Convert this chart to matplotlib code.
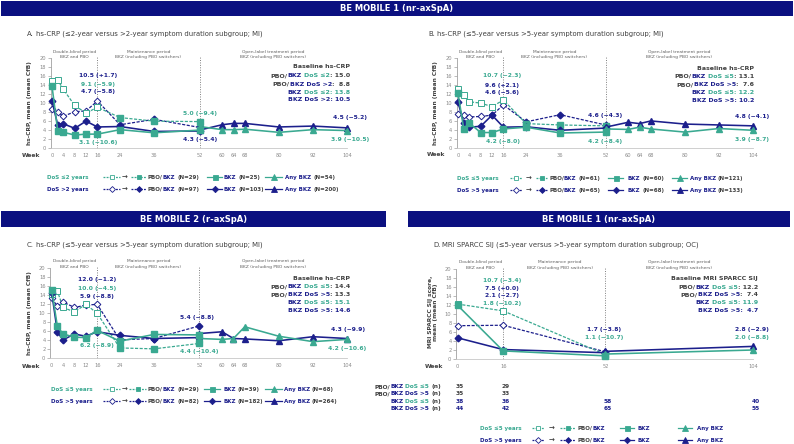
import matplotlib
matplotlib.use('Agg')
import matplotlib.pyplot as plt
from matplotlib.lines import Line2D
from matplotlib.patches import Rectangle

plt.rcParams['font.family'] = ['DejaVu Sans']

TEAL = '#3aa991'
NAVY = '#1c1f8c'
BAR = '#0b1080'
DARK = '#404040'
GREY = '#8a8a8a'

# weeks
wk_pbo = [0, 2, 4, 8, 12, 16, 24, 36, 52]
wk_bkz = [0, 2, 4, 8, 12, 16, 24, 36, 52]
wk_any = [52, 60, 64, 68, 80, 92, 104]
wk_ticks = [0, 4, 8, 12, 16, 24, 36, 52, 60, 64, 68, 80, 92, 104]
wk_mri = [0, 16, 52]
wk_mri_any = [52, 104]
wk_mri_ticks = [0, 16, 52, 104]

# A: BE MOBILE 1, hs-CRP, DoS <=2 / >2
a_pbo_le = [15.0, 15.2, 13.1, 9.5, 7.8, 9.1, 6.8, 6.0, 5.9]
a_bkz_le = [13.8, 3.9, 3.5, 2.9, 3.1, 3.1, 4.1, 3.4, 4.0]
a_any_le = [4.8, 4.1, 4.1, 4.2, 3.5, 4.1, 3.9]
a_pbo_gt = [8.8, 8.0, 7.1, 8.1, 8.3, 10.5, 5.2, 6.4, 4.6]
a_bkz_gt = [10.5, 5.2, 5.4, 4.4, 6.0, 4.7, 4.8, 3.7, 3.8]
a_any_gt = [4.0, 5.2, 5.5, 5.5, 4.7, 4.9, 4.5]

# B: BE MOBILE 1, hs-CRP, DoS <=5 / >5
b_pbo_le = [13.1, 11.9, 10.3, 10.0, 9.2, 10.7, 5.4, 5.1, 4.9]
b_bkz_le = [12.2, 4.3, 5.5, 3.4, 3.4, 4.2, 4.6, 3.3, 3.5]
b_any_le = [4.2, 4.1, 4.6, 4.2, 3.5, 4.3, 3.9]
b_pbo_gt = [7.6, 7.4, 6.9, 7.0, 7.3, 9.6, 5.8, 7.4, 5.1]
b_bkz_gt = [10.2, 5.6, 4.6, 4.8, 7.3, 4.6, 4.7, 3.9, 4.4]
b_any_gt = [4.6, 5.7, 5.4, 6.0, 5.3, 5.1, 4.9]

# C: BE MOBILE 2, hs-CRP, DoS <=5 / >5
c_pbo_le = [14.4, 14.9, 11.3, 10.3, 12.0, 10.0, 2.3, 2.1, 3.3]
c_bkz_le = [15.1, 7.1, 5.4, 4.7, 4.6, 6.2, 3.8, 5.3, 5.2]
c_any_le = [4.4, 4.2, 4.4, 7.0, 4.9, 3.7, 4.2]
c_pbo_gt = [13.3, 11.6, 12.5, 11.3, 11.8, 12.0, 4.1, 4.4, 7.2]
c_bkz_gt = [14.6, 5.8, 4.1, 5.4, 4.9, 5.9, 5.1, 4.4, 4.6]
c_any_gt = [5.5, 5.9, 4.4, 4.3, 3.9, 4.8, 4.4]

# D: BE MOBILE 1, MRI SPARCC SIJ, DoS <=5 / >5
d_pbo_le = [12.2, 10.7, 1.0]
d_bkz_le = [11.9, 1.8, 0.7]
d_any_le = [1.1, 2.0]
d_pbo_gt = [7.4, 7.5, 1.6]
d_bkz_gt = [4.7, 2.1, 1.4]
d_any_gt = [1.7, 2.8]
n_rows = ['PBO/BKZ DoS \u22645 (n)', 'PBO/BKZ DoS >5 (n)', 'BKZ DoS \u22645 (n)', 'BKZ DoS >5 (n)']
n_vals = [[35, 29], [35, 33], [38, 36, 58, 40], [44, 42, 65, 55]]

W, H = 794, 444
fig = plt.figure(figsize=(7.94, 4.44), dpi=100)
renderer = fig.canvas.get_renderer()


def P(x, y):
    return x / W, 1 - y / H


def text_w(s, size, weight):
    # width of a string incl. trailing spaces: measure with a guard character
    a = fig.text(0, 0, s + '|', fontsize=size, fontweight=weight)
    b = fig.text(0, 0, '|', fontsize=size, fontweight=weight)
    w = a.get_window_extent(renderer).width - b.get_window_extent(renderer).width
    a.remove()
    b.remove()
    return w


def rich(x, y, parts, size=4.4, ha='left', weight='bold'):
    full = ''.join(s for s, c in parts)
    x0 = x if ha == 'left' else x - text_w(full, size, weight)
    prefix = ''
    for s, c in parts:
        off = text_w(prefix, size, weight) if prefix else 0
        lead = len(s) - len(s.lstrip(' '))
        off += text_w(s[:lead], size, weight) if lead else 0
        fig.text(*P(x0 + off, y), s.strip(' '), ha='left', va='center', color=c,
                 fontsize=size, fontweight=weight)
        prefix += s


def bar(x0, x1, y0, y1, label):
    fig.add_artist(Rectangle(P(x0, y1), (x1 - x0) / W, (y1 - y0) / H,
                             transform=fig.transFigure, color=BAR, lw=0))
    fig.text(*P((x0 + x1) / 2, (y0 + y1) / 2), label, color='white', fontsize=6,
             fontweight='bold', ha='center', va='center')


def make_ax(l, t, r, b, ticks, periods):
    ax = fig.add_axes([l / W, 1 - b / H, (r - l) / W, (b - t) / H])
    ax.set_xlim(-0.5, 104)
    ax.set_ylim(0, 20)
    ax.set_xticks(ticks)
    ax.set_yticks(range(0, 21, 2))
    for s in ['top', 'right']:
        ax.spines[s].set_visible(False)
    ax.spines['left'].set_color('#a0a0a0')
    ax.spines['bottom'].set_color('#c8c8c8')
    ax.spines['left'].set_linewidth(0.6)
    ax.spines['bottom'].set_linewidth(0.6)
    ax.tick_params(axis='x', length=0, pad=3.5, labelsize=3.7, labelcolor=GREY)
    ax.tick_params(axis='y', length=2, width=0.5, color='#a0a0a0', pad=1.5,
                   labelsize=3.7, labelcolor=GREY)
    for wk in [16, 52]:
        ax.plot([wk, wk], [0, 20.3], color='#808080', lw=0.7, ls=(0, (1, 1.5)),
                clip_on=False, zorder=1)
    for xc, txt in zip(periods, ['Double-blind period\nBKZ and PBO',
                                 'Maintenance period\nBKZ (including PBO switchers)',
                                 'Open-label treatment period\nBKZ (including PBO switchers)']):
        ax.text(xc, 20.9, txt, ha='center', va='center', fontsize=3.2, color='#606060',
                linespacing=1.6, clip_on=False)
    return ax


def series(ax, wp, pbo, wb, bkz, wa, anyb, col, mk, n_open, ms=4.0):
    ax.plot(wp, pbo, color=col, lw=0.9, ls=(0, (2.5, 1.2)), clip_on=False, zorder=2)
    ax.plot(wp[:n_open], pbo[:n_open], ls='none', marker=mk, ms=ms, mfc='white',
            mec=col, mew=0.7, clip_on=False, zorder=3)
    ax.plot(wp[n_open:], pbo[n_open:], ls='none', marker=mk, ms=ms, mfc=col,
            mec=col, clip_on=False, zorder=3)
    ax.plot(wb, bkz, color=col, lw=1.15, marker=mk, ms=ms, clip_on=False, zorder=4)
    ax.plot(wa, anyb, color=col, lw=1.15, marker='^', ms=4.8, clip_on=False, zorder=4)


def sample(x0, x1, y, col, ls, mk, mfc, ms=3.4):
    fig.add_artist(Line2D([x0 / W, x1 / W], [1 - y / H] * 2, color=col, lw=0.9, ls=ls,
                          transform=fig.transFigure))
    fig.add_artist(Line2D([(x0 + x1) / 2 / W], [1 - y / H], ls='none', marker=mk, ms=ms,
                          mfc=mfc, mec=col, mew=0.6, transform=fig.transFigure))


def legend(y1, y2, xs, cuts, ns):
    # xs: label, s1 start/end, arrow, s2 start/end, txt, s3 start/end, txt, s4 start/end, txt
    for y, col, mk, cut, n in [(y1, TEAL, 's', cuts[0], ns[0]), (y2, NAVY, 'D', cuts[1], ns[1])]:
        rich(xs[0], y, [('DoS ' + cut + ' years', col)], size=4.0)
        sample(xs[1], xs[2], y, col, (0, (1.5, 1)), mk, 'white', 3.4 if mk == 's' else 3.0)
        fig.text(*P(xs[3], y), '\u2192', color=DARK, fontsize=5, ha='center', va='center',
                 fontweight='bold')
        sample(xs[4], xs[5], y, col, (0, (1.5, 1)), mk, col, 3.4 if mk == 's' else 3.0)
        rich(xs[6], y, [('PBO/', DARK), ('BKZ', NAVY), (n[0], DARK)], size=4.0)
        sample(xs[7], xs[8], y, col, '-', mk, col, 3.6 if mk == 's' else 3.2)
        rich(xs[9], y, [('BKZ', NAVY), (n[1], DARK)], size=4.0)
        sample(xs[10], xs[11], y, col, '-', '^', col, 4.3)
        rich(xs[12], y, [('Any BKZ', NAVY), (n[2], DARK)], size=4.0)


def baseline(x, ys, title, cuts, vals):
    rich(x, ys[0], [(title, DARK)], ha='right', size=4.5)
    rich(x, ys[1], [('PBO/', DARK), ('BKZ ', NAVY), ('DoS ' + cuts[0], TEAL), (': ' + vals[0], DARK)],
         ha='right', size=4.5)
    rich(x, ys[2], [('PBO/', DARK), ('BKZ DoS ' + cuts[1], NAVY), (': ' + vals[1], DARK)],
         ha='right', size=4.5)
    rich(x, ys[3], [('BKZ ', NAVY), ('DoS ' + cuts[0] + ': ' + vals[2], TEAL)], ha='right', size=4.5)
    rich(x, ys[4], [('BKZ DoS ' + cuts[1] + ': ' + vals[3], NAVY)], ha='right', size=4.5)


def lab(x, y, s, col):
    fig.text(*P(x, y), s, color=col, fontsize=4.3, fontweight='bold', ha='center', va='center')


# header bars
bar(1, 793, 1, 16, 'BE MOBILE 1 (nr-axSpA)')
bar(1, 386, 211, 227, 'BE MOBILE 2 (r-axSpA)')
bar(408, 790, 211, 227, 'BE MOBILE 1 (nr-axSpA)')

# panel titles
rich(27, 34, [('A. ', DARK), ('hs-CRP (\u22642-year versus >2-year symptom duration subgroup; MI)', DARK)],
     size=4.95, weight='normal')
rich(428, 34, [('B. ', DARK), ('hs-CRP (\u22645-year versus >5-year symptom duration subgroup; MI)', DARK)],
     size=4.95, weight='normal')
rich(27, 245, [('C. ', DARK), ('hs-CRP (\u22645-year versus >5-year symptom duration subgroup; MI)', DARK)],
     size=4.95, weight='normal')
rich(433, 245, [('D. ', DARK), ('MRI SPARCC SIJ (\u22645-year versus >5-year symptom duration subgroup; OC)', DARK)],
     size=4.95, weight='normal')

# panel A
ax = make_ax(50.6, 58.5, 347, 148, wk_ticks, [8, 34, 78])
series(ax, wk_pbo, a_pbo_gt, wk_bkz, a_bkz_gt, wk_any, a_any_gt, NAVY, 'D', 6, 3.4)
series(ax, wk_pbo, a_pbo_le, wk_bkz, a_bkz_le, wk_any, a_any_le, TEAL, 's', 6)
fig.text(*P(40, 155.7), 'Week', fontsize=4.3, fontweight='bold', color=DARK, ha='right', va='center')
fig.text(*P(30, 103), 'hs-CRP, mean (mean CfB)', rotation=90, fontsize=4.2, fontweight='bold',
         color=DARK, ha='center', va='center')
baseline(350, [67, 75.7, 84, 92, 99.7], 'Baseline hs-CRP', ['\u22642', '>2'], ['15.0', ' 8.8', '13.8', '10.5'])
lab(98, 76, '10.5 (+1.7)', NAVY)
lab(98, 84, '9.1 (\u22125.9)', TEAL)
lab(98, 92, '4.7 (\u22125.8)', NAVY)
lab(98, 142.7, '3.1 (\u221210.6)', TEAL)
lab(200, 113, '5.0 (\u22129.4)', TEAL)
lab(200, 140, '4.3 (\u22125.4)', NAVY)
lab(350, 117.7, '4.5 (\u22125.2)', NAVY)
lab(350, 140, '3.9 (\u221210.5)', TEAL)
legend(177, 189, [47, 103, 120, 125, 131, 146, 148, 207, 222, 224, 265, 282, 285],
       ['\u22642', '>2'], [[' (N=29)', ' (N=25)', ' (N=54)'], [' (N=97)', ' (N=103)', ' (N=200)']])

# panel B
ax = make_ax(456.6, 58.5, 753, 147.7, wk_ticks, [8, 34, 78])
series(ax, wk_pbo, b_pbo_gt, wk_bkz, b_bkz_gt, wk_any, b_any_gt, NAVY, 'D', 6, 3.4)
series(ax, wk_pbo, b_pbo_le, wk_bkz, b_bkz_le, wk_any, b_any_le, TEAL, 's', 6)
fig.text(*P(445, 155), 'Week', fontsize=4.3, fontweight='bold', color=DARK, ha='right', va='center')
fig.text(*P(435, 103), 'hs-CRP, mean (mean CfB)', rotation=90, fontsize=4.2, fontweight='bold',
         color=DARK, ha='center', va='center')
baseline(754, [68.3, 76.5, 85, 92.7, 100.3], 'Baseline hs-CRP', ['\u22645', '>5'], ['13.1', ' 7.6', '12.2', '10.2'])
lab(502, 76, '10.7 (\u22122.3)', TEAL)
lab(502, 85, '9.6 (+2.1)', NAVY)
lab(502, 92.7, '4.6 (\u22125.6)', NAVY)
lab(503, 141.7, '4.2 (\u22128.0)', TEAL)
lab(605, 115, '4.6 (\u22124.3)', NAVY)
lab(605, 141.7, '4.2 (\u22128.4)', TEAL)
lab(752, 116.7, '4.8 (\u22124.1)', NAVY)
lab(752, 140, '3.9 (\u22128.7)', TEAL)
legend(178, 190, [457, 510, 522, 529, 536, 547, 549, 608, 623, 628, 672, 687, 690],
       ['\u22645', '>5'], [[' (N=61)', ' (N=60)', ' (N=121)'], [' (N=65)', ' (N=68)', ' (N=133)']])

# panel C
ax = make_ax(50.3, 268.3, 347, 358.3, wk_ticks, [8, 34, 78])
series(ax, wk_pbo, c_pbo_gt, wk_bkz, c_bkz_gt, wk_any, c_any_gt, NAVY, 'D', 6, 3.4)
series(ax, wk_pbo, c_pbo_le, wk_bkz, c_bkz_le, wk_any, c_any_le, TEAL, 's', 6)
fig.text(*P(40, 366), 'Week', fontsize=4.3, fontweight='bold', color=DARK, ha='right', va='center')
fig.text(*P(29.5, 313), 'hs-CRP, mean (mean CfB)', rotation=90, fontsize=4.2, fontweight='bold',
         color=DARK, ha='center', va='center')
baseline(350, [278.3, 286.7, 295, 302.7, 310.7], 'Baseline hs-CRP', ['\u22645', '>5'], ['14.4', '13.3', '15.1', '14.6'])
lab(97, 279, '12.0 (\u22121.2)', NAVY)
lab(97, 288.3, '10.0 (\u22124.5)', TEAL)
lab(97, 296.7, '5.9 (\u22128.8)', NAVY)
lab(97, 345, '6.2 (\u22128.9)', TEAL)
lab(197, 317.3, '5.4 (\u22128.8)', NAVY)
lab(199, 351.7, '4.4 (\u221210.4)', TEAL)
lab(348, 329, '4.3 (\u22129.9)', NAVY)
lab(347, 348.3, '4.2 (\u221210.6)', TEAL)
legend(389.3, 401.3, [51, 103, 120, 125, 129, 146, 148, 204, 220, 223, 265, 282, 284],
       ['\u22645', '>5'], [[' (N=29)', ' (N=39)', ' (N=68)'], [' (N=82)', ' (N=182)', ' (N=264)']])

# panel D
ax = make_ax(456.3, 269, 753, 359, wk_mri_ticks, [8, 36, 78])
series(ax, wk_mri, d_pbo_gt, wk_mri, d_bkz_gt, wk_mri_any, d_any_gt, NAVY, 'D', 2, 3.4)
series(ax, wk_mri, d_pbo_le, wk_mri, d_bkz_le, wk_mri_any, d_any_le, TEAL, 's', 2)
fig.text(*P(443, 366.7), 'Week', fontsize=4.3, fontweight='bold', color=DARK, ha='right', va='center')
fig.text(*P(433, 312), 'MRI SPARCC SIJ score,\nmean (mean CfB)', rotation=90, fontsize=4.2,
         fontweight='bold', color=DARK, ha='center', va='center', multialignment='center')
baseline(758, [278.3, 287.3, 295, 302.7, 310.3], 'Baseline MRI SPARCC SIJ', ['\u22645', '>5'],
         ['12.2', ' 7.4', '11.9', ' 4.7'])
lab(502, 280.7, '10.7 (\u22123.4)', TEAL)
lab(502, 288.3, '7.5 (+0.0)', NAVY)
lab(502, 295.7, '2.1 (\u22122.7)', NAVY)
lab(502, 303.3, '1.8 (\u221210.2)', TEAL)
lab(604, 329.3, '1.7 (\u22123.8)', NAVY)
lab(604, 337.7, '1.1 (\u221210.7)', TEAL)
lab(752, 329.3, '2.8 (\u22122.9)', NAVY)
lab(752, 337.7, '2.0 (\u22128.8)', TEAL)

# number-at-risk table under D
row_y = [386.7, 393.5, 401, 408.3]
for i, (name, y) in enumerate(zip(n_rows, row_y)):
    pre, rest = name.split(' DoS ')
    cut = 'DoS ' + rest[:-4]
    parts = []
    if pre.startswith('PBO/'):
        parts.append(('PBO/', DARK))
    parts.append(('BKZ ', NAVY))
    parts.append((cut, TEAL if '\u2264' in cut else NAVY))
    parts.append((' (n)', DARK))
    rich(441, y, parts, ha='right', size=4.2)
    ncol = DARK if i < 2 else NAVY
    for wk, v in zip(wk_mri_ticks, n_vals[i]):
        fig.text(*P(458 + wk * 2.84 + 2, y), str(v), color=ncol, fontsize=4.2, fontweight='bold',
                 ha='center', va='center')

# legend under D
for y, col, mk, cut in [(428, TEAL, 's', '\u22645'), (440, NAVY, 'D', '>5')]:
    rich(480, y, [('DoS ' + cut + ' years', col)], size=4.0)
    sample(532, 544, y, col, (0, (1.5, 1)), mk, 'white', 3.4 if mk == 's' else 3.0)
    fig.text(*P(552, y), '\u2192', color=DARK, fontsize=5, ha='center', va='center', fontweight='bold')
    sample(560, 575, y, col, (0, (1.5, 1)), mk, col, 3.4 if mk == 's' else 3.0)
    rich(578, y, [('PBO/', DARK), ('BKZ', NAVY)], size=4.0)
    sample(620, 634, y, col, '-', mk, col, 3.6 if mk == 's' else 3.2)
    rich(638, y, [('BKZ', NAVY)], size=4.0)
    sample(678, 692, y, col, '-', '^', col, 4.3)
    rich(697, y, [('Any BKZ', NAVY)], size=4.0)

fig.savefig('out.png', dpi=100)
